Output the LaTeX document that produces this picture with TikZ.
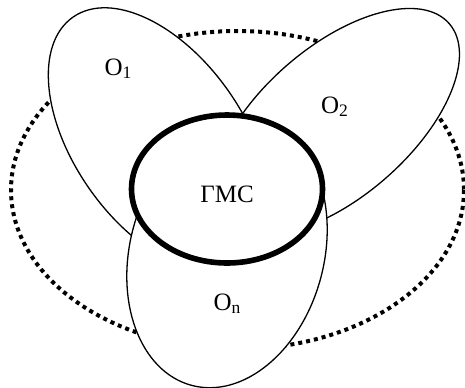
\documentclass[tikz,border=0pt]{standalone}
\usepackage{fontspec}
\setmainfont{Liberation Serif}

\begin{document}
\begin{tikzpicture}[x=0.5pt, y=-0.5pt,
    petal/.style={draw=black, fill=white, line width=0.65pt},
    core/.style={draw=black, fill=white, line width=2.8pt},
    bound/.style={draw=black, line width=2pt, dash pattern=on 2pt off 2pt},
    lbl/.style={font=\fontsize{12.5}{15}\selectfont, anchor=base, inner sep=0pt}
  ]
  \useasboundingbox (0,0) rectangle (465,387);

  \coordinate (envc) at (237.5,190);
  \coordinate (o1c)  at (159,140);
  \coordinate (o2c)  at (336,122);
  \coordinate (onc)  at (227,253);
  \coordinate (gmsc) at (227,189);

  % outer boundary
  \draw[bound] (envc) ellipse [x radius=226.5, y radius=159];

  % petals
  \draw[petal, rotate around={-55:(o1c)}] (o1c) ellipse [x radius=150, y radius=85];
  \draw[petal, rotate around={41:(o2c)}]  (o2c) ellipse [x radius=150, y radius=75];
  \draw[petal, rotate around={-15:(onc)}] (onc) ellipse [x radius=97, y radius=137];

  % core
  \draw[core] (gmsc) ellipse [x radius=95.5, y radius=74];

  \node[lbl] (o1)  at (118.5,75)  {O\textsubscript{1}};
  \node[lbl] (o2)  at (335,113)   {O\textsubscript{2}};
  \node[lbl] (gms) at (227,202)   {ΓMC};
  \node[lbl] (on)  at (227.5,310) {O\textsubscript{n}};
\end{tikzpicture}
\end{document}
